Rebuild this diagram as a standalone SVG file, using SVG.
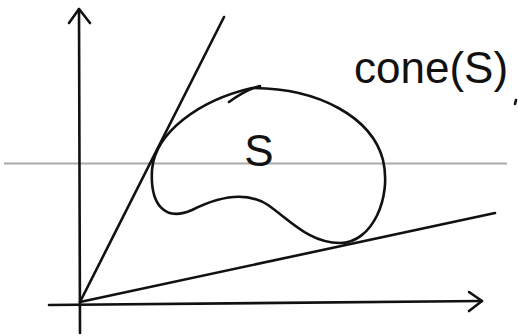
<svg xmlns="http://www.w3.org/2000/svg" width="518" height="336" viewBox="0 0 518 336">
<style>
.ink{fill:none;stroke:#111;stroke-width:2.6;stroke-linecap:round;stroke-linejoin:round}
.guide{fill:none;stroke:#aaa;stroke-width:2}
.hand{font-family:"Liberation Sans","DejaVu Sans",sans-serif;fill:#111}
</style>
<rect width="518" height="336" fill="#fff"/>
<g id="guide-line"><line class="guide" x1="4" y1="163.5" x2="507" y2="163.5"/></g>
<g id="axes">
<path class="ink" d="M80 333 L79 9"/>
<path class="ink" d="M69 23 L79 9 L90 23"/>
<path class="ink" d="M49 305 L482 301"/>
<path class="ink" d="M469 292 L482 301 L469 311"/>
</g>
<g id="connectors">
<path class="ink" d="M80 302 L224 17"/>
<path class="ink" d="M80 302 L495 213"/>
</g>
<g id="set-S">
<path class="ink" d="M252 88 C320 88 372 118 383 160 C392 198 372 243 340 243 C310 243 292 222 268 205 C245 190 216 198 192 210 C165 222 150 205 152 170 C155 132 200 100 252 88 Z"/>
<path class="ink" d="M229 102 C240 94 252 88 260 86"/>
<text class="hand" x="259" y="166" font-size="44" text-anchor="middle">S</text>
</g>
<g id="label-cone">
<text class="hand" x="354" y="83" font-size="44">cone(S)</text>
<path class="ink" d="M516 100 L515 104"/>
</g>
</svg>
